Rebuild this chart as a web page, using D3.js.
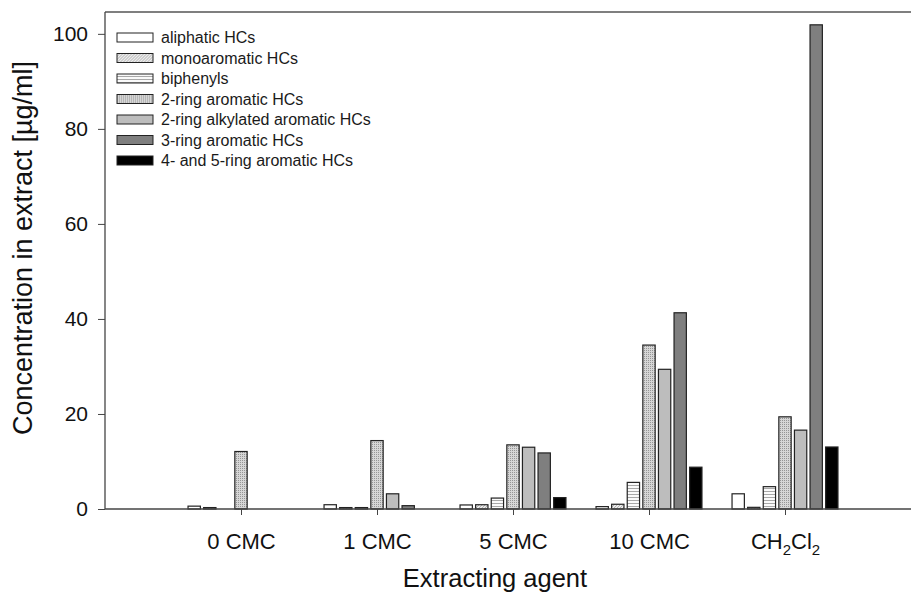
<!DOCTYPE html>
<html lang="en">
<head>
  <meta charset="UTF-8">
  <title>Extracting agent</title>
  <script src="https://d3js.org/d3.v7.min.js"></script>
  <style>
    body { margin: 0; background: #fff; }
    svg { display: block; font-family: "Liberation Sans", Arial, sans-serif; }
    .axis path, .axis line { stroke: #444; }
    .axis text { fill: #111; }
  </style>
</head>
<body>
  <script>
    // categories and series
    const agents = ["0 CMC", "1 CMC", "5 CMC", "10 CMC", "CH2Cl2"];
    const seriesNames = [
      "aliphatic HCs",
      "monoaromatic HCs",
      "biphenyls",
      "2-ring aromatic HCs",
      "2-ring alkylated aromatic HCs",
      "3-ring aromatic HCs",
      "4- and 5-ring aromatic HCs"
    ];
    // values per series, one per agent (ug/ml)
    const aliphatic   = [0.6, 0.9, 0.85, 0.5, 3.2];
    const monoarom    = [0.3, 0.3, 0.9, 1.0, 0.35];
    const biphenyls   = [0, 0.3, 2.3, 5.6, 4.7];
    const ring2       = [12.1, 14.4, 13.5, 34.5, 19.4];
    const ring2alk    = [0, 3.2, 13.0, 29.4, 16.6];
    const ring3       = [0, 0.7, 11.8, 41.3, 101.9];
    const ring45      = [0, 0, 2.4, 8.8, 13.05];
    const seriesValues = [aliphatic, monoarom, biphenyls, ring2, ring2alk, ring3, ring45];
    const yTicks = [0, 20, 40, 60, 80, 100];

    const width = 911, height = 592;
    const m = { left: 105, top: 12, bottom: 509, right: 921 };

    const svg = d3.select("body").append("svg")
      .attr("width", width)
      .attr("height", height);

    // fill patterns
    const defs = svg.append("defs");
    const hatch = defs.append("pattern").attr("id", "p-mono")
      .attr("patternUnits", "userSpaceOnUse").attr("width", 3).attr("height", 3);
    hatch.append("rect").attr("width", 3).attr("height", 3).attr("fill", "#ececec");
    hatch.append("path").attr("d", "M0,3 L3,0 M-1,1 L1,-1 M2,4 L4,2")
      .attr("stroke", "#9a9a9a").attr("stroke-width", 0.7);

    const horiz = defs.append("pattern").attr("id", "p-biph")
      .attr("patternUnits", "userSpaceOnUse").attr("width", 4).attr("height", 3);
    horiz.append("rect").attr("width", 4).attr("height", 3).attr("fill", "#fafafa");
    horiz.append("rect").attr("y", 2).attr("width", 4).attr("height", 1).attr("fill", "#a8a8a8");

    // square lattice of small dots
    const dots = defs.append("pattern").attr("id", "p-ring2")
      .attr("patternUnits", "userSpaceOnUse").attr("width", 2).attr("height", 2);
    dots.append("rect").attr("width", 2).attr("height", 2).attr("fill", "#d6d6d6");
    dots.append("rect").attr("width", 1).attr("height", 1).attr("fill", "#959595");

    const fills = ["#ffffff", "url(#p-mono)", "url(#p-biph)", "url(#p-ring2)", "#bdbdbd", "#7f7f7f", "#000000"];

    // scales
    const x = d3.scalePoint().domain(agents).range([m.left, m.right]).padding(1);
    const inner = d3.scaleBand().domain(seriesNames)
      .range([-54.6, 54.6]).paddingInner(0.21).paddingOuter(0.105);
    const y = d3.scaleLinear().domain([0, 104.6]).range([m.bottom, m.top]);

    // frame top line
    svg.append("line")
      .attr("x1", m.left).attr("x2", m.right).attr("y1", m.top).attr("y2", m.top)
      .attr("stroke", "#555").attr("stroke-width", 1.3);

    // bars
    const bars = [];
    seriesNames.forEach((s, i) => {
      agents.forEach((a, j) => {
        const v = seriesValues[i][j];
        if (v > 0) bars.push({ series: s, idx: i, agent: a, value: v });
      });
    });

    svg.append("g").selectAll("rect")
      .data(bars)
      .enter()
      .append("rect")
      .attr("x", d => x(d.agent) + inner(d.series))
      .attr("y", d => y(d.value))
      .attr("width", inner.bandwidth())
      .attr("height", d => y(0) - y(d.value))
      .attr("fill", d => fills[d.idx])
      .attr("stroke", "#222")
      .attr("stroke-width", 1.2);

    // y axis
    const yAxis = svg.append("g")
      .attr("class", "axis")
      .attr("transform", `translate(${m.left},0)`)
      .call(d3.axisLeft(y).tickValues(yTicks).tickSize(7).tickPadding(10));
    yAxis.select(".domain").attr("d", `M0,${m.bottom}V${m.top}`).attr("stroke-width", 1.3);
    yAxis.selectAll("text").style("font-size", "21px");

    // x axis
    const xAxis = svg.append("g")
      .attr("class", "axis")
      .attr("transform", `translate(0,${m.bottom})`)
      .call(d3.axisBottom(x).tickSize(6).tickPadding(12).tickFormat(""));
    xAxis.select(".domain").attr("d", `M${m.left},0H${m.right}`).attr("stroke-width", 1.3);

    xAxis.selectAll(".tick").append("text")
      .attr("y", 40)
      .attr("text-anchor", "middle")
      .style("font-size", "22px")
      .attr("fill", "#111")
      .each(function (d) {
        const t = d3.select(this);
        if (d === "CH2Cl2") {
          t.append("tspan").text("CH");
          t.append("tspan").attr("dy", 6).style("font-size", "15px").text("2");
          t.append("tspan").attr("dy", -6).text("Cl");
          t.append("tspan").attr("dy", 6).style("font-size", "15px").text("2");
        } else {
          t.text(d);
        }
      });

    // axis titles
    svg.append("text")
      .attr("x", x("5 CMC") - 18)
      .attr("y", 587)
      .attr("text-anchor", "middle")
      .style("font-size", "25.5px")
      .attr("fill", "#111")
      .text("Extracting agent");

    svg.append("text")
      .attr("transform", `translate(32,248) rotate(-90)`)
      .attr("text-anchor", "middle")
      .style("font-size", "27px")
      .attr("fill", "#111")
      .text("Concentration in extract [µg/ml]");

    // legend
    const legend = svg.append("g").attr("transform", "translate(117,33)");
    const rows = legend.selectAll("g")
      .data(seriesNames)
      .enter()
      .append("g")
      .attr("transform", (d, i) => `translate(0,${i * 20.5})`);
    rows.append("rect")
      .attr("width", 36).attr("height", 9)
      .attr("fill", (d, i) => fills[i])
      .attr("stroke", "#222").attr("stroke-width", 1);
    rows.append("text")
      .attr("x", 44).attr("y", 10)
      .style("font-size", "16px")
      .attr("fill", "#1a1a1a")
      .text(d => d);
  </script>
</body>
</html>
